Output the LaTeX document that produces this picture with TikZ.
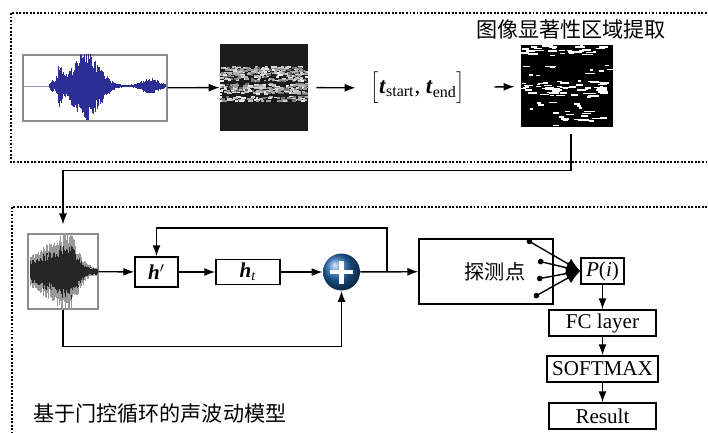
\documentclass[tikz,border=0pt]{standalone}
\usepackage{fontspec}
\setmainfont{Liberation Serif}
\newfontfamily\cjk{Noto Sans CJK SC}
\usepackage{tikz}
\usetikzlibrary{arrows.meta, positioning, calc}
\definecolor{wavblue}{RGB}{45,45,150}
\definecolor{ballblue}{RGB}{35,105,175}
\definecolor{specbg}{RGB}{28,28,28}

\begin{document}
\begin{tikzpicture}[
  x=0.2mm, y=-0.2mm,
  font=\fontsize{12}{14}\selectfont,
  frame/.style={draw, line width=0.6pt, dash pattern=on 1.1pt off 0.9pt},
  box/.style={draw, line width=0.8pt, inner sep=0pt, minimum height=5.2mm},
  picbox/.style={draw=black!45, line width=0.6pt, fill=white, inner sep=0pt},
  cn/.style={font=\cjk\fontsize{12}{14}\selectfont},
  ar/.style={-{Latex[length=2.2mm,width=1.6mm]}, line width=0.8pt},
  tap/.style={{Circle[length=1.1mm]}-{Latex[length=2.8mm,width=2.4mm]}, line width=0.8pt}
]
\useasboundingbox (0,0) rectangle (708,432);
\clip (0,0) rectangle (708,432);
\draw[frame] (11,13) rectangle (730,162);
\draw[frame] (12,207) rectangle (730,450);

% upper part: image saliency
\node[cn] (title) at (571,29) {图像显著性区域提取};
\node[picbox, minimum width=28.8mm, minimum height=13.2mm] (wave1) at (95,88) {};
\node[fill=specbg, inner sep=0pt, minimum width=17.6mm, minimum height=17.4mm] (spec) at (264,87.5) {};
\node[inner xsep=3mm, font=\fontsize{13}{15}\selectfont] (tspan) at (418,88)
     {$\Bigl[$\textbf{\textit{t}}\textsubscript{start}, \textbf{\textit{t}}\textsubscript{end}$\Bigr]$};
\node[fill=black, inner sep=0pt, minimum width=18.4mm, minimum height=16.4mm] (salient) at (567,86) {};

\pgfmathsetseed{11}
\begin{scope}
\clip (wave1.north west) rectangle (wave1.south east);
\draw[wavblue!50, line width=0.4pt] (24,86) -- (166,86);
\foreach \i in {49,49.6,...,166}{
  \pgfmathsetmacro{\wamp}{1+27*exp(-((\i-90)/16)^2)+20*exp(-((\i-60)/3)^2)+12*exp(-((\i-75)/14)^2)+7*exp(-((\i-150)/11)^2)+5*exp(-((\i-52)/2)^2)}
  \pgfmathsetmacro{\wup}{\wamp*(0.55+0.5*rnd)}
  \pgfmathsetmacro{\wdn}{\wamp*(0.55+0.5*rnd)}
  \draw[wavblue, line width=0.45pt] (\i,86-\wup) -- (\i,86+\wdn);
}
\end{scope}

\begin{scope}
\clip (spec.north west) rectangle (spec.south east);
\foreach \yc/\ys/\n in {73/7/260, 88/5/220, 98/2.5/70}{
  \foreach \k in {1,...,\n}{
    \pgfmathsetmacro{\spx}{218+88*rnd}
    \pgfmathsetmacro{\spy}{\yc+\ys*(2*rnd-1)}
    \pgfmathsetmacro{\spw}{2+3*rnd}
    \pgfmathsetmacro{\gl}{int(40+55*rnd)}
    \fill[white!\gl!black] (\spx,\spy) rectangle ++(\spw,1.8);
  }
}
\end{scope}

\begin{scope}
\clip (salient.north west) rectangle (salient.south east);
\foreach \yc/\ys/\n in {50/5/30, 70/6/10, 88/8/60, 113/12/22}{
  \foreach \k in {1,...,\n}{
    \pgfmathsetmacro{\spx}{519+90*rnd}
    \pgfmathsetmacro{\spy}{\yc+\ys*(2*rnd-1)}
    \pgfmathsetmacro{\spw}{3+8*rnd}
    \fill[white] (\spx,\spy) rectangle ++(\spw,1.6);
  }
}
\end{scope}

\draw[ar] (wave1) -- (spec);
\draw[ar, shorten <=1.6mm] (spec) -- (tspan);
\draw[ar, shorten <=2.8mm, shorten >=1.2mm] (tspan) -- (salient);

% lower part: GRU acoustic model
\node[picbox, minimum width=14mm, minimum height=15mm] (wave2) at (63,271.5) {};
\begin{scope}
\clip (wave2.north west) rectangle (wave2.south east);
\foreach \i in {30,30.5,...,97}{
  \pgfmathsetmacro{\wamp}{4+20*exp(-((\i-45)/18)^2)+32*exp(-((\i-68)/13)^2)}
  \pgfmathsetmacro{\wup}{\wamp*(0.6+0.45*rnd)}
  \pgfmathsetmacro{\wdn}{\wamp*(0.6+0.45*rnd)}
  \draw[black!40, line width=0.45pt] (\i,271.5-\wup) -- (\i,271.5+\wdn);
  \draw[black!85, line width=0.45pt] (\i,271.5-0.7*\wup) -- (\i,271.5+0.7*\wdn);
}
\end{scope}

\node[box, minimum width=8.6mm, minimum height=6mm] (hp) at (156.5,272) {\textbf{\textit{h}}$'$};
\node[box, minimum width=12.8mm, minimum height=5mm] (ht) at (248,272) {\textbf{\textit{h}}\textsubscript{\textit{t}}};
\node[circle, ball color=ballblue, minimum size=7.4mm, inner sep=0pt] (sum) at (341.5,272) {};
\draw[white, line width=2.6pt] ([xshift=-2.3mm]sum.center) -- ([xshift=2.3mm]sum.center)
     ([yshift=-2.3mm]sum.center) -- ([yshift=2.3mm]sum.center);
\node[box, minimum width=26.8mm, minimum height=13mm, font=\cjk\fontsize{11.5}{14}\selectfont] (probe) at (486,271.5) {\hspace*{3.6mm}探测点};
\node[box, minimum width=8.6mm] (pi) at (602.5,271) {\textit{P}(\textit{i})};
\node[box, minimum width=21.4mm] (fc) at (602.5,323) {FC layer};
\node[box, minimum width=22.2mm] (smax) at (602.5,369) {SOFTMAX};
\node[box, minimum width=21.4mm] (res) at (602.5,416) {Result};
\node[cn, anchor=west] (model) at (27,414) {基于门控循环的声波动模型};

\coordinate (split) at (387,272);
\coordinate (loop) at (387,228);
\coordinate (tap1) at (527,240);
\coordinate (tap2) at (538,261);
\coordinate (tap3) at (537,279);
\coordinate (tap4) at (534,297);

\draw[ar, shorten <=1.4mm, shorten >=1.8mm] ([xshift=0.8mm]salient.south) -- ++(0,43) -| (wave2.north);
\draw[ar] (wave2) -- (hp);
\draw[ar] (hp) -- (ht);
\draw[ar] (ht) -- (sum);
\draw[ar] (sum) -- (probe);
\draw[ar] (split) -- (loop) -| (hp.north);
\draw[ar] (wave2.south) -- ++(0,37) -| (sum.south);
\foreach \t in {1,...,4}
  \draw[tap] (tap\t) -- (pi.west);
\draw[ar] (pi) -- (fc);
\draw[ar] (fc) -- (smax);
\draw[ar] (smax) -- (res);
\end{tikzpicture}
\end{document}
